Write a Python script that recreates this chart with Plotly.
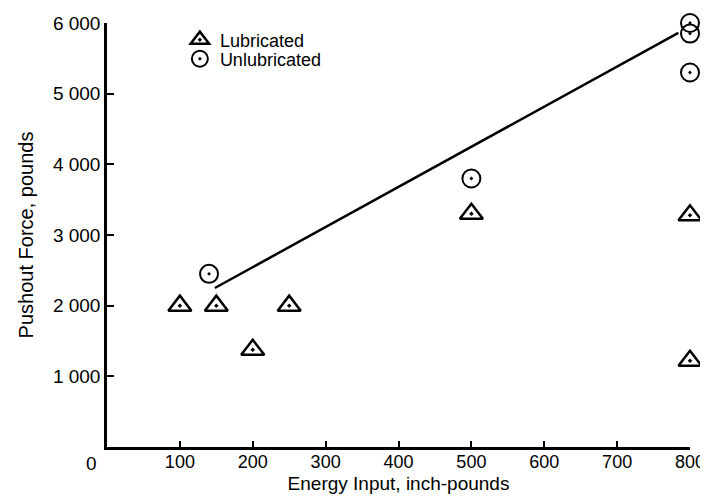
import plotly.graph_objects as go

# ---- data ----
lub_x = [100, 150, 200, 250, 500, 800, 800]
lub_y = [2000, 2000, 1375, 2000, 3300, 3280, 1220]

unlub_x = [140, 500, 800, 800, 800]
unlub_y = [2450, 3800, 6000, 5850, 5300]

fit_x = [148, 784]
fit_y = [2250, 5860]

x_ticks = [100, 200, 300, 400, 500, 600, 700, 800]
x_ticktext = ["100", "200", "300", "400", "500", "600", "700", "800"]
y_ticks = [1000, 2000, 3000, 4000, 5000, 6000]
y_ticktext = ["1 000", "2 000", "3 000", "4 000", "5 000", "6 000"]

FONT = "Liberation Sans, Arial, Helvetica, sans-serif"

fig = go.Figure()

fig.add_trace(go.Scatter(
    x=fit_x, y=fit_y, mode="lines",
    line=dict(color="black", width=2.5),
    showlegend=False, hoverinfo="skip",
))

fig.add_trace(go.Scatter(
    x=lub_x, y=lub_y, mode="markers", name="Lubricated",
    marker=dict(symbol="triangle-up-open-dot", size=20, color="black",
                line=dict(color="black", width=2.5)),
    cliponaxis=False, legend="legend",
))

fig.add_trace(go.Scatter(
    x=unlub_x, y=unlub_y, mode="markers", name="Unlubricated",
    marker=dict(symbol="circle-open-dot", size=18, color="black",
                line=dict(color="black", width=2)),
    cliponaxis=False, legend="legend2",
))

# the page body adds an 8px margin, so the figure is 8px smaller each way
fig.update_layout(
    width=700, height=488,
    margin=dict(l=99, r=18, t=15, b=49),
    paper_bgcolor="white", plot_bgcolor="white",
    font=dict(family=FONT, size=19, color="black"),
    legend=dict(x=0.125, y=0.960, xanchor="left", yanchor="middle",
                bgcolor="rgba(0,0,0,0)", font=dict(size=18),
                borderwidth=0),
    legend2=dict(x=0.125, y=0.915, xanchor="left", yanchor="middle",
                 bgcolor="rgba(0,0,0,0)", font=dict(size=18),
                 borderwidth=0),
    xaxis=dict(
        range=[0, 800], tickmode="array", tickvals=x_ticks, ticktext=x_ticktext,
        ticks="inside", ticklen=6, tickwidth=2, tickcolor="black",
        showline=True, linecolor="black", linewidth=2.5,
        showgrid=False, zeroline=False, automargin=False,
        ticklabelstandoff=-3,
        title=dict(text="Energy Input, inch-pounds", font=dict(size=19), standoff=6),
        tickfont=dict(size=18),
    ),
    yaxis=dict(
        range=[0, 6000], tickmode="array", tickvals=y_ticks, ticktext=y_ticktext,
        ticks="inside", ticklen=7, tickwidth=2, tickcolor="black",
        showline=True, linecolor="black", linewidth=2.5,
        showgrid=False, zeroline=False, automargin=False,
        title=dict(text="Pushout Force, pounds", font=dict(size=20), standoff=14),
        tickfont=dict(size=19),
    ),
    annotations=[dict(
        x=0, y=0, xref="x", yref="y", text="0", showarrow=False,
        xanchor="center", yanchor="middle", xshift=-16, yshift=-16,
        font=dict(size=19, family=FONT, color="black"),
    )],
)

fig.write_html("out.html")
